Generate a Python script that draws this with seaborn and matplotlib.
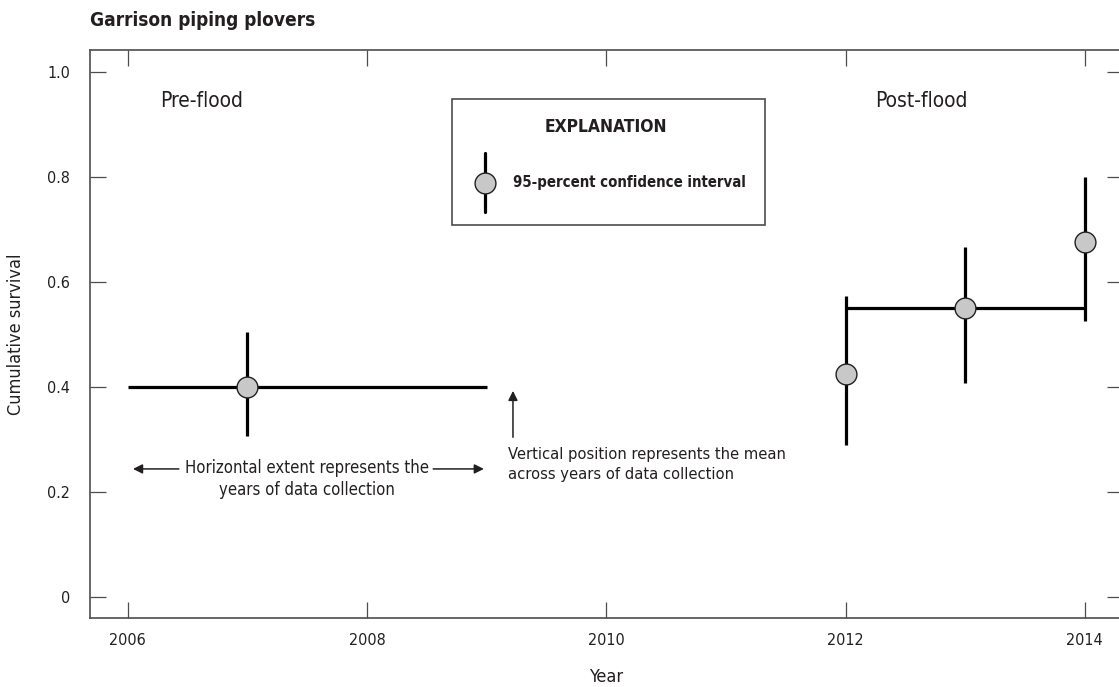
import matplotlib
matplotlib.use("Agg")
import matplotlib.pyplot as plt
from matplotlib.patches import Rectangle
from matplotlib.lines import Line2D
import seaborn as sns
import pandas as pd

# ---- data
years = [2007, 2012, 2013, 2014]
survival = [0.400, 0.424, 0.549, 0.675]
ci_low = [0.306, 0.289, 0.406, 0.524]
ci_high = [0.503, 0.573, 0.666, 0.800]

# horizontal extents = years of data collection behind a mean
extent_level = [0.400, 0.549]
extent_start = [2006, 2012]
extent_end = [2009, 2014]

year_ticks = [2006, 2008, 2010, 2012, 2014]
surv_ticks = [0, 0.2, 0.4, 0.6, 0.8, 1.0]
surv_labels = ["0", "0.2", "0.4", "0.6", "0.8", "1.0"]

df = pd.DataFrame({"year": years, "survival": survival,
                   "low": ci_low, "high": ci_high})

sns.set_theme(style="ticks")
plt.rcParams["font.family"] = ["DejaVu Sans"]
plt.rcParams["font.stretch"] = "condensed"
txt_col = "#231f20"
spine_col = "#4d4d4d"
fill_col = "#c8c8c8"

fig = plt.figure(figsize=(11.19, 6.87), dpi=100)
ax = fig.add_axes([0.080, 0.1004, 0.9236, 0.8268])

# extents and confidence intervals
ax.hlines(extent_level, extent_start, extent_end, color="black", lw=2.3, zorder=2)
ax.vlines(df["year"], df["low"], df["high"], color="black", lw=2.3, zorder=2)
sns.scatterplot(data=df, x="year", y="survival", ax=ax, s=225,
                color=fill_col, edgecolor=txt_col, linewidth=1.0, zorder=3,
                legend=False)

ax.set_xlim(2005.68, 2014.32)
ax.set_ylim(-0.041, 1.041)
ax.set_xticks(year_ticks)
ax.set_yticks(surv_ticks)
ax.set_yticklabels(surv_labels)
ax.tick_params(direction="in", length=11.5, width=0.9, color=spine_col,
               top=True, right=True, labelsize=11.5, labelcolor=txt_col)
ax.tick_params(axis="y", pad=14)
ax.tick_params(axis="x", pad=11)
for sp in ax.spines.values():
    sp.set_color(spine_col)
    sp.set_linewidth(1.2)

ax.set_xlabel("Year", fontsize=13, color=txt_col, labelpad=14)
ax.set_ylabel("Cumulative survival", fontsize=13, color=txt_col, labelpad=16)

fig.text(0.080, 0.970, "Garrison piping plovers", fontsize=13.7, fontweight="bold",
         color=txt_col, ha="left", va="center")

# period labels
ax.text(2006.27, 0.944, "Pre-flood", fontsize=15, color=txt_col, ha="left", va="center")
ax.text(2012.25, 0.944, "Post-flood", fontsize=15, color=txt_col, ha="left", va="center")

# explanation box
ax.add_patch(Rectangle((0.351, 0.692), 0.303, 0.222, transform=ax.transAxes,
                       fill=False, edgecolor=spine_col, lw=1.2))
ax.text(0.4995, 0.865, "EXPLANATION", transform=ax.transAxes, fontsize=12.5,
        fontweight="bold", color=txt_col, ha="center", va="center")
ax.add_line(Line2D([0.3827, 0.3827], [0.715, 0.819], transform=ax.transAxes,
                   color="black", lw=2.3))
ax.plot([0.3827], [0.766], transform=ax.transAxes, marker="o", ms=15,
        mfc=fill_col, mec=txt_col, mew=1.0)
ax.text(0.410, 0.766, "95-percent confidence interval", transform=ax.transAxes,
        fontsize=10.7, fontweight="bold", color=txt_col, ha="left", va="center")

# explanatory arrows
arrow = dict(arrowstyle="-|>", color=txt_col, lw=1.1, mutation_scale=14)
ax.annotate("", xy=(2006.02, 0.243), xytext=(2006.45, 0.243), arrowprops=arrow)
ax.annotate("", xy=(2009.0, 0.243), xytext=(2008.53, 0.243), arrowprops=arrow)
ax.text(2007.5, 0.262, "Horizontal extent represents the\nyears of data collection",
        fontsize=12, color=txt_col, ha="center", va="top", linespacing=1.3)
ax.annotate("", xy=(2009.22, 0.397), xytext=(2009.22, 0.298), arrowprops=arrow)
ax.text(2009.18, 0.285, "Vertical position represents the mean\nacross years of data collection",
        fontsize=11.8, color=txt_col, ha="left", va="top", linespacing=1.45)

plt.savefig("out.png", dpi=100)
